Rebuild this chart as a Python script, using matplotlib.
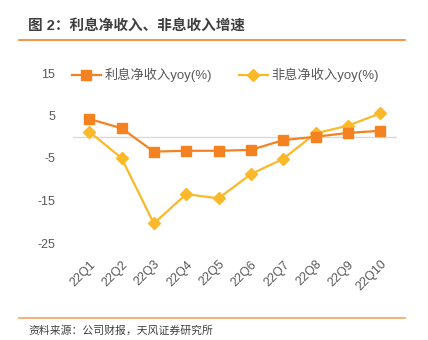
import matplotlib.pyplot as plt
from matplotlib.lines import Line2D

plt.rcParams['font.family'] = ['Liberation Sans', 'Noto Sans CJK SC', 'DejaVu Sans']
plt.rcParams['axes.unicode_minus'] = False

# data
quarters = ['22Q1', '22Q2', '22Q3', '22Q4', '22Q5', '22Q6', '22Q7', '22Q8', '22Q9', '22Q10']
net_interest_yoy = [4.2, 2.0, -3.5, -3.3, -3.3, -3.1, -0.8, 0.0, 0.9, 1.4]
non_interest_yoy = [1.2, -5.0, -20.4, -13.5, -14.5, -8.8, -5.2, 0.8, 2.6, 5.5]
y_ticks = [15, 5, -5, -15, -25]

title = '图 2：利息净收入、非息收入增速'
source = '资料来源：公司财报，天风证券研究所'
labels = ['利息净收入yoy(%)', '非息净收入yoy(%)']

ORANGE = '#F58220'
YELLOW = '#FBB829'
GREY = '#595959'

W, H = 428, 340
fig = plt.figure(figsize=(W / 100, H / 100), dpi=100)

# header / footer decoration
fig.text(28 / W, 1 - 26 / H, title, fontsize=10.5, fontweight='bold',
         color='#404040', ha='left', va='center')
fig.add_artist(Line2D([19 / W, 405 / W], [1 - 40 / H, 1 - 40 / H],
                      color=ORANGE, lw=1.2))
fig.add_artist(Line2D([19 / W, 405 / W], [1 - 318 / H, 1 - 318 / H],
                      color='#F7A35C', lw=1.2))
fig.text(28 / W, 1 - 331 / H, source, fontsize=7.8, color='#404040',
         ha='left', va='center')

ax = fig.add_axes([73 / W, 1 - 243 / H, (397 - 73) / W, (243 - 73) / H])
x = list(range(len(quarters)))

ax.axhline(0, color='#D9D9D9', lw=1, zorder=1)
ax.plot(x, net_interest_yoy, color=ORANGE, lw=1.6, marker='s', markersize=7.5,
        label=labels[0], zorder=3)
ax.plot(x, non_interest_yoy, color=YELLOW, lw=1.6, marker='D', markersize=6.5,
        label=labels[1], zorder=2)

ax.set_xlim(-0.5, 9.52)
ax.set_ylim(-25, 15)
ax.set_yticks(y_ticks)
ax.set_xticks(x)
ax.set_xticklabels(quarters, rotation=45, ha='right', va='top',
                   rotation_mode='anchor')
ax.tick_params(axis='y', length=0, pad=13, labelsize=9, labelcolor=GREY)
ax.tick_params(axis='x', length=0, pad=11, labelsize=9, labelcolor=GREY)
for s in ax.spines.values():
    s.set_visible(False)

ax.legend(loc='upper left', bbox_to_anchor=(-0.02, 1.06), ncol=2, frameon=False,
          fontsize=9.5, labelcolor=GREY, handlelength=2.2, handletextpad=0.3,
          columnspacing=2.0, borderaxespad=0)

fig.savefig('out.png', dpi=100)
